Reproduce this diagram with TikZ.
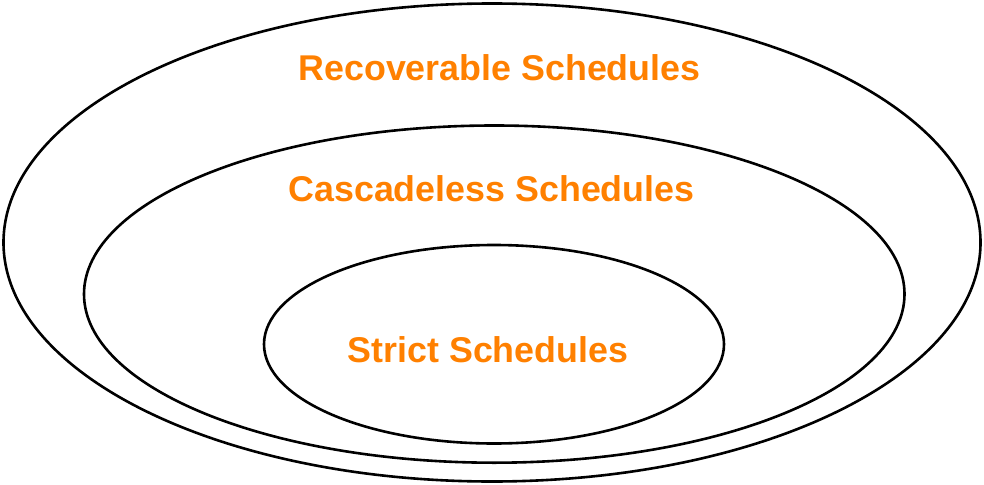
\documentclass[tikz,border=0pt]{standalone}
\usepackage{fontspec}
\setmainfont{Liberation Sans}
\definecolor{lblorange}{RGB}{255,128,0}
\tikzset{
  setline/.style={draw=black, line width=2.6pt},
  setlabel/.style={text=lblorange, font=\fontsize{35.8}{40}\selectfont\bfseries, inner sep=0pt, anchor=base}
}
\begin{document}
\begin{tikzpicture}[x=1pt,y=-1pt]
\useasboundingbox (0,0) rectangle (984,484);
\draw[setline] (492,242.5) ellipse [x radius=488.5, y radius=239];
\draw[setline] (494.25,294.1) ellipse [x radius=410.25, y radius=168.6];
\draw[setline] (494,344.25) ellipse [x radius=230, y radius=99.25];
\node[setlabel] (rec) at (499.5,80.5) {Recoverable Schedules};
\node[setlabel] (cas) at (491.5,201) {Cascadeless Schedules};
\node[setlabel] (str) at (488,362) {Strict Schedules};
\end{tikzpicture}
\end{document}
